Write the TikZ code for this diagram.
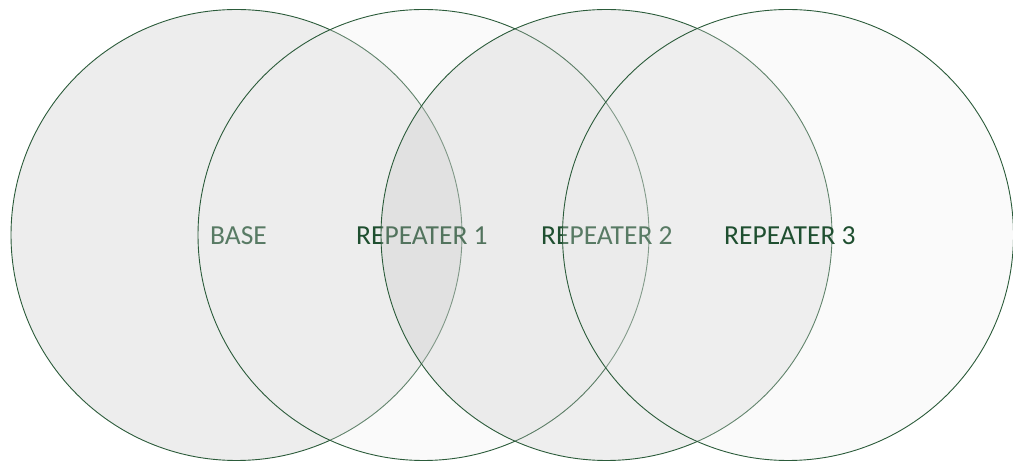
\documentclass[tikz,border=0pt]{standalone}
\usepackage{fontspec}
\setmainfont{Carlito}
\definecolor{ringline}{HTML}{2B5B3A}
\definecolor{labeltext}{HTML}{1F4F30}
\tikzset{
  x=1pt, y=-1pt,
  ring/.style={circle, draw=ringline, line width=0.9pt, inner sep=0pt,
               minimum size=451pt},
  greyring/.style={ring, fill={rgb,255:red,237;green,237;blue,237}},
  paleveil/.style={ring, fill={rgb,255:red,237;green,237;blue,237}, fill opacity=0.28},
  darkveil/.style={ring, fill={rgb,255:red,200;green,200;blue,200}, fill opacity=0.3},
  ringlabel/.style={anchor=base west, inner sep=0pt, text=labeltext,
                    font=\fontsize{27.5}{33}\selectfont}
}
\begin{document}
\begin{tikzpicture}
  \useasboundingbox (0,0) rectangle (1013,462);
  % each ring is laid over the previous ring and its label
  \node[greyring] (base) at (236.5,235) {};
  \node[ringlabel] (tbase) at (210,245) {BASE};
  \node[paleveil] (rep1) at (423.5,235) {};
  \node[ringlabel] (trep1) at (356,245) {REPEATER 1};
  \node[darkveil] (rep2) at (606.5,235) {};
  \node[ringlabel] (trep2) at (541,245) {REPEATER 2};
  \node[paleveil] (rep3) at (788,235) {};
  \node[ringlabel] (trep3) at (724,245) {REPEATER 3};
\end{tikzpicture}
\end{document}
